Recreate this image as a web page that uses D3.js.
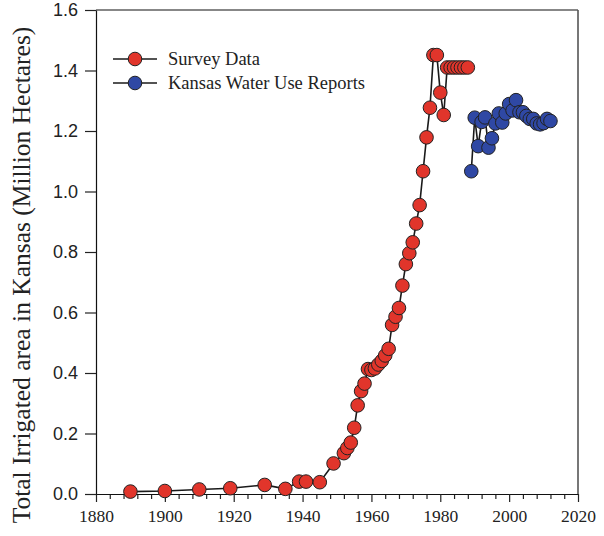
<!DOCTYPE html>
<html>
<head>
<meta charset="utf-8">
<script src="https://cdn.jsdelivr.net/npm/d3@7"></script>
<style>
  body { margin: 0; background: #fff; }
  #chart { width: 604px; height: 536px; }
</style>
</head>
<body>
<div id="chart"></div>
<script>
// survey data (red)
let surveyYears = [1890, 1900, 1910, 1919, 1929, 1935, 1939, 1941, 1945, 1949,
    1952, 1953, 1954, 1955, 1956, 1957, 1958, 1959, 1960, 1961, 1962, 1963, 1964, 1965,
    1966, 1967, 1968, 1969, 1970, 1971, 1972, 1973, 1974, 1975, 1976, 1977, 1978, 1979,
    1980, 1981, 1982, 1983, 1984, 1985, 1986, 1987, 1988];
let surveyValues = [0.008, 0.010, 0.015, 0.019, 0.030, 0.017, 0.041, 0.041, 0.039, 0.101,
    0.135, 0.152, 0.170, 0.219, 0.293, 0.340, 0.365, 0.413, 0.410, 0.415, 0.428, 0.440, 0.458, 0.480,
    0.559, 0.586, 0.615, 0.689, 0.760, 0.796, 0.832, 0.894, 0.955, 1.067, 1.179, 1.277, 1.451, 1.451,
    1.327, 1.253, 1.410, 1.410, 1.410, 1.410, 1.410, 1.410, 1.410];

// kansas water use reports (blue)
let kwurYears = [1989, 1990, 1991, 1992, 1993, 1994, 1995, 1996, 1997, 1998, 1999, 2000,
    2001, 2002, 2003, 2004, 2005, 2006, 2007, 2008, 2009, 2010, 2011, 2012];
let kwurValues = [1.067, 1.244, 1.150, 1.230, 1.245, 1.145, 1.176, 1.225, 1.258, 1.228, 1.258, 1.289,
    1.268, 1.302, 1.262, 1.262, 1.250, 1.240, 1.240, 1.225, 1.222, 1.226, 1.240, 1.233];

let xTicks = [1880, 1900, 1920, 1940, 1960, 1980, 2000, 2020];
let yTicks = [0.0, 0.2, 0.4, 0.6, 0.8, 1.0, 1.2, 1.4, 1.6];

let seriesNames = ['Survey Data', 'Kansas Water Use Reports'];
let seriesColors = ['#e1352b', '#2f48a4'];

let width = 604,
    height = 536,
    margin = {left: 96, top: 10, right: 26, bottom: 42},
    clipWidth = width - margin.left - margin.right,
    clipHeight = height - margin.top - margin.bottom;

let svg = d3.select('#chart').append('svg')
    .attr('width', width)
    .attr('height', height)
    .append('g')
    .attr('transform', `translate(${margin.left}, ${margin.top})`);

let xScale = d3.scaleLinear()
    .domain([1880, 2020])
    .range([0, clipWidth]);

let yScale = d3.scaleLinear()
    .domain([0, 1.6])
    .range([clipHeight, 0]);

// frame top and right
svg.append('line')
    .attr('x1', 0).attr('x2', clipWidth)
    .attr('y1', 0).attr('y2', 0)
    .attr('stroke', '#111').attr('stroke-width', 1.2);
svg.append('line')
    .attr('x1', clipWidth).attr('x2', clipWidth)
    .attr('y1', 0).attr('y2', clipHeight)
    .attr('stroke', '#555').attr('stroke-width', 1.6);

// minor x ticks every 4 years
let minorTicks = d3.range(1880, 2021, 4).filter(d => xTicks.indexOf(d) < 0);
svg.append('g')
    .attr('transform', `translate(0, ${clipHeight})`)
    .call(d3.axisBottom(xScale).tickValues(minorTicks).tickSize(5).tickFormat(''))
    .call(g => g.select('.domain').remove())
    .selectAll('line').attr('stroke', '#222').attr('stroke-width', 1.2);

let xAxis = svg.append('g')
    .attr('class', 'x-axis')
    .attr('transform', `translate(0, ${clipHeight})`)
    .call(d3.axisBottom(xScale).tickValues(xTicks).tickSize(8).tickSizeOuter(0).tickPadding(8).tickFormat(d3.format('d')));
xAxis.select('.domain').attr('stroke', '#111').attr('stroke-width', 1.2);
xAxis.selectAll('line').attr('stroke', '#222').attr('stroke-width', 1.2);
xAxis.selectAll('text')
    .style('font-family', '"Liberation Serif", "Times New Roman", serif')
    .style('font-size', '17.5px')
    .attr('fill', '#222');

let yAxis = svg.append('g')
    .attr('class', 'y-axis')
    .call(d3.axisLeft(yScale).tickValues(yTicks).tickSize(11).tickSizeOuter(0).tickPadding(7).tickFormat(d3.format('.1f')));
yAxis.select('.domain').attr('stroke', '#111').attr('stroke-width', 1.2);
yAxis.selectAll('line').attr('stroke', '#222').attr('stroke-width', 1.2);
yAxis.selectAll('text')
    .style('font-family', '"Liberation Sans", Arial, sans-serif')
    .style('font-size', '18px')
    .attr('fill', '#222');

svg.append('text')
    .attr('transform', `translate(${21 - margin.left}, ${275 - margin.top}) rotate(-90)`)
    .attr('text-anchor', 'middle')
    .attr('dy', '0.35em')
    .style('font-family', '"Liberation Serif", "Times New Roman", serif')
    .style('font-size', '25.5px')
    .attr('fill', '#222')
    .text('Total Irrigated area in Kansas (Million Hectares)');

let line = d3.line()
    .x(d => xScale(d[0]))
    .y(d => yScale(d[1]));

function drawSeries(years, values, color) {
    let data = years.map((y, i) => [y, values[i]]);
    svg.append('path')
        .datum(data)
        .attr('d', line)
        .attr('fill', 'none')
        .attr('stroke', '#1a1a1a')
        .attr('stroke-width', 1.6);
    svg.append('g')
        .selectAll('circle')
        .data(data)
        .join('circle')
        .attr('cx', d => xScale(d[0]))
        .attr('cy', d => yScale(d[1]))
        .attr('r', 6.8)
        .attr('fill', color)
        .attr('stroke', '#222')
        .attr('stroke-width', 1);
}

drawSeries(surveyYears, surveyValues, seriesColors[0]);
drawSeries(kwurYears, kwurValues, seriesColors[1]);

// legend
let legend = svg.append('g')
    .attr('transform', `translate(${113 - margin.left}, ${59 - margin.top})`);

let legendItems = legend.selectAll('g')
    .data(seriesNames)
    .join('g')
    .attr('transform', (d, i) => `translate(0, ${i * 24})`);

legendItems.append('line')
    .attr('x1', 0).attr('x2', 44)
    .attr('stroke', '#1a1a1a').attr('stroke-width', 1.6);
legendItems.append('circle')
    .attr('cx', 22)
    .attr('r', 6.8)
    .attr('fill', (d, i) => seriesColors[i])
    .attr('stroke', '#222');
legendItems.append('text')
    .attr('x', 55)
    .attr('dy', '0.32em')
    .style('font-family', '"Liberation Serif", "Times New Roman", serif')
    .style('font-size', '18.5px')
    .attr('fill', '#222')
    .text(d => d);
</script>
</body>
</html>
